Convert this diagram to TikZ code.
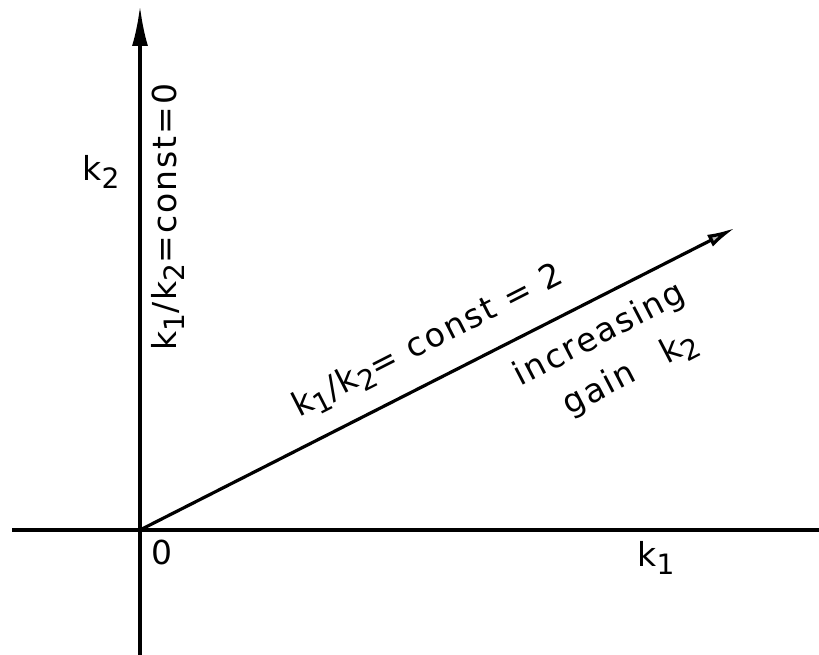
\documentclass[tikz,border=0pt]{standalone}
\usepackage{fontspec}
\usepackage{graphicx}
\setmainfont{DejaVu Sans}
\newfontfamily\handfont[LetterSpace=6]{DejaVu Sans}
\usetikzlibrary{arrows.meta}
\newcommand{\ksub}[1]{k\raisebox{-0.4ex}{\scalebox{0.85}{#1}}}
\tikzset{
  axis/.style={line width=3.4pt, line cap=butt},
  lbl/.style={font=\handfont\fontsize{33}{38}\selectfont, inner sep=0pt},
}
\begin{document}
\begin{tikzpicture}[x=1pt,y=-1pt]
\useasboundingbox (0,0) rectangle (819,655);
\fill[white] (0,0) rectangle (819,655);
\coordinate (O) at (140,530);
\coordinate (vtop) at (140,6);
\coordinate (vbot) at (140,655);
\coordinate (hl) at (12,530);
\coordinate (hr) at (819,530);
\coordinate (tip) at (735,228);
\draw[axis] (O) -- (vbot);
\draw[axis] (hl) -- (hr);
\draw[axis, -{Latex[length=40pt,width=16pt]}] (O) -- (vtop);
\draw[line width=3.2pt, -{Latex[length=28pt,width=13pt,fill=gray!55]}] (O) -- (tip);
\node[lbl] (k2lab) at (101,172) {\ksub{2}};
\node[lbl] (k1lab) at (656,558) {\ksub{1}};
\node[lbl] (zero) at (162,552) {0};
\node[lbl, rotate=90] (vlab) at (168,217) {\ksub{1}/\ksub{2}=const=0};
\node[lbl, rotate=27] (dlab) at (428,342) {\ksub{1}/\ksub{2}= const = 2};
\node[lbl, rotate=27.5, align=center, font=\handfont\fontsize{33}{48}\selectfont] (inc) at (611,357) {increasing\\\hspace*{0.6em}gain\hspace{1em}\ksub{2}};
\end{tikzpicture}
\end{document}
